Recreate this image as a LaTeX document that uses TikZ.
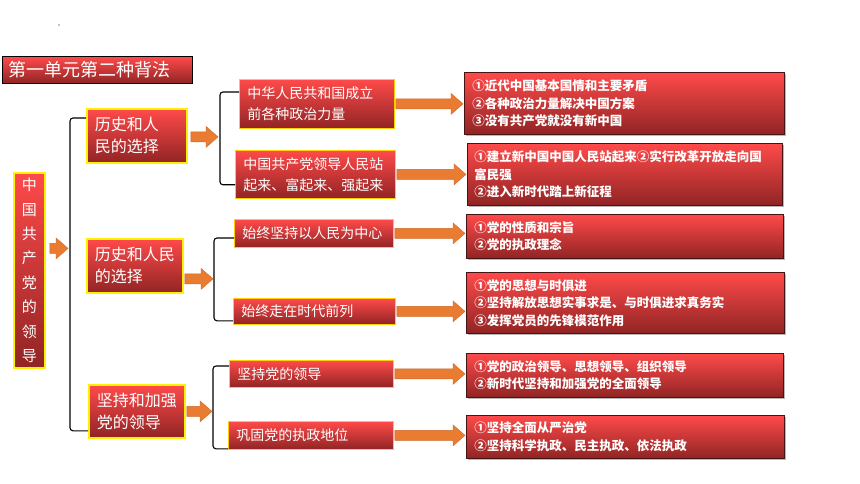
\documentclass[tikz,border=0pt]{standalone}
\usepackage{fontspec}
\newfontfamily\cjk{Noto Sans CJK SC}
\usetikzlibrary{calc,shadows}
\definecolor{rtop}{RGB}{255,74,74}
\definecolor{rmid}{RGB}{230,58,58}
\definecolor{rbot}{RGB}{145,36,36}
\definecolor{arr}{RGB}{234,124,50}
\definecolor{arrl}{RGB}{205,104,40}
\definecolor{gold}{RGB}{255,206,0}
\definecolor{cline}{RGB}{70,20,20}
\newcommand\blockarr[2]{\fill[arr, draw=arrl, line width=0.4pt]
  ($(#1)+(0,-5)$) -- ($(#2)+(-12,-5)$) -- ($(#2)+(-12,-10.5)$) -- (#2) --
  ($(#2)+(-12,10.5)$) -- ($(#2)+(-12,5)$) -- ($(#1)+(0,5)$) -- cycle;}
\begin{document}
\begin{tikzpicture}[x=1pt,y=-1pt,
  redbox/.style={rectangle, top color=rtop, middle color=rmid, bottom color=rbot,
     text=white, anchor=north west, inner sep=0pt, align=left},
  titlebox/.style={redbox, draw=black, line width=0.8pt,
     font=\cjk\fontsize{18}{22}\selectfont},
  abox/.style={redbox, draw=yellow, line width=1.8pt,
     font=\cjk\fontsize{16}{22}\selectfont},
  rootbox/.style={redbox, draw=yellow, line width=1.8pt, align=center,
     font=\cjk\fontsize{15}{24.4}\selectfont},
  bbox/.style={redbox, draw=gold, line width=0.8pt,
     font=\cjk\fontsize{14}{21}\selectfont},
  cbox/.style={redbox, draw=cline, line width=0.7pt,
     font=\cjk\bfseries\fontsize{12.5}{17.5}\selectfont,
     drop shadow={shadow xshift=1.5pt, shadow yshift=-1.5pt, fill=gray!55, opacity=1}},
  brk/.style={draw=black, line width=1.1pt, rounded corners=3pt}
]
\useasboundingbox (0,0) rectangle (860,484);
\fill[black] (59,25) circle (0.6);

\node[titlebox, minimum width=190, minimum height=27, text width=178] (title) at (2,56) {第一单元第二种背法};

\node[rootbox, minimum width=31, minimum height=195, text width=31] (root) at (13,172)
  {中\\国\\共\\产\\党\\的\\领\\导};

\node[abox, minimum width=100, minimum height=54, text width=84] (a1) at (86,108) {历史和人\\民的选择};
\node[abox, minimum width=96, minimum height=54, text width=80] (a2) at (86,238) {历史和人民\\的选择};
\node[abox, minimum width=96, minimum height=53, text width=80] (a3) at (88,384) {坚持和加强\\党的领导};

\node[bbox, minimum width=155, minimum height=49, text width=139] (b1) at (239,79) {中华人民共和国成立\\前各种政治力量};
\node[bbox, minimum width=160, minimum height=48, text width=144] (b2) at (235,150) {中国共产党领导人民站\\起来、富起来、强起来};
\node[bbox, minimum width=159, minimum height=28, text width=143] (b3) at (234,219) {始终坚持以人民为中心};
\node[bbox, minimum width=162, minimum height=26, text width=146] (b4) at (233,298) {始终走在时代前列};
\node[bbox, minimum width=164, minimum height=27, text width=148] (b5) at (229,360) {坚持党的领导};
\node[bbox, minimum width=165, minimum height=28, text width=149] (b6) at (228,421) {巩固党的执政地位};

\node[cbox, minimum width=320, minimum height=62, text width=304] (c1) at (464,72)
  {①近代中国基本国情和主要矛盾\\②各种政治力量解决中国方案\\③没有共产党就没有新中国};
\node[cbox, minimum width=315, minimum height=62, text width=301] (c2) at (467,143)
  {①建立新中国中国人民站起来②实行改革开放走向国\\富民强\\②进入新时代踏上新征程};
\node[cbox, minimum width=317, minimum height=44, text width=301] (c3) at (466,214)
  {①党的性质和宗旨\\②党的执政理念};
\node[cbox, minimum width=318, minimum height=61, text width=302] (c4) at (466,272)
  {①党的思想与时俱进\\②坚持解放思想实事求是、与时俱进求真务实\\③发挥党员的先锋模范作用};
\node[cbox, minimum width=317, minimum height=44, text width=301] (c5) at (466,353)
  {①党的政治领导、思想领导、组织领导\\②新时代坚持和加强党的全面领导};
\node[cbox, minimum width=318, minimum height=43, text width=302] (c6) at (466,415)
  {①坚持全面从严治党\\②坚持科学执政、民主执政、依法执政};

% bracket positions
\coordinate (k0) at (70,248);
\coordinate (k1) at (220,136);
\coordinate (k2) at (214,278);
\coordinate (k3) at (213,411);

% brackets
\coordinate (k0t) at ([yshift=-10pt]a1.north west);
\coordinate (k0b) at ([yshift=8pt]a3.south west);
\draw[brk] (k0t) -| (k0) |- (k0b);
\coordinate (k1t) at ([yshift=-13pt]b1.north west);
\coordinate (k1b) at ([yshift=14pt]b2.south west);
\draw[brk] (k1t) -| (k1) |- (k1b);
\coordinate (k2t) at ([yshift=-19pt]b3.north west);
\coordinate (k2b) at ([yshift=4pt]b4.south west);
\draw[brk] (k2t) -| (k2) |- (k2b);
\coordinate (k3t) at ([yshift=-6pt]b5.north west);
\coordinate (k3b) at ([yshift=1pt]b6.south west);
\draw[brk] (k3t) -| (k3) |- (k3b);

% arrows into brackets
\coordinate (s0) at ([xshift=4pt,yshift=22pt]root.east);
\coordinate (e0) at ([xshift=-2pt]k0 |- s0);
\blockarr{s0}{e0}
\coordinate (s1) at ([xshift=3pt,yshift=-1pt]a1.east);
\coordinate (e1) at ([xshift=-2pt]k1 |- s1);
\blockarr{s1}{e1}
\coordinate (s2) at ([xshift=1pt,yshift=-13pt]a2.east);
\coordinate (e2) at ([xshift=-1pt]k2 |- s2);
\blockarr{s2}{e2}
\coordinate (s3) at ([xshift=1pt]a3.east);
\coordinate (e3) at ([xshift=-1pt]k3 |- s3);
\blockarr{s3}{e3}

% arrows B -> C
\foreach \i in {1,...,6}{
  \coordinate (bs\i) at ([xshift=1pt]b\i.east);
  \coordinate (be\i) at ([xshift=-1pt]c\i.west |- b\i.east);
  \blockarr{bs\i}{be\i}
}
\end{tikzpicture}
\end{document}
